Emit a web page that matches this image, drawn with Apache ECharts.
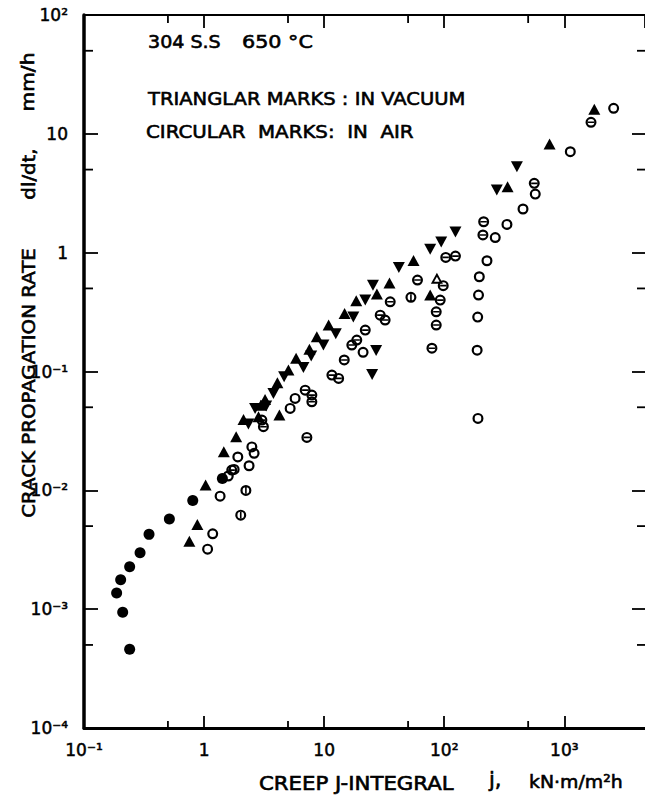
<!DOCTYPE html>
<html>
<head>
<meta charset="utf-8">
<script src="https://cdn.jsdelivr.net/npm/echarts@6/dist/echarts.min.js"></script>
<style>
  html, body { margin: 0; padding: 0; background: #fff; }
  #chart { width: 645px; height: 799px; }
</style>
</head>
<body>
<div id="chart"></div>
<script>
// Creep crack growth in 304 stainless steel at 650 °C:
// crack propagation rate dl/dt (mm/h) against creep J-integral j (kN·m/m²h).

// Axis ranges
const J_MIN = 0.1, J_MAX = 4700;
const RATE_MIN = 1e-4, RATE_MAX = 100;

// Minor ticks at 5 × 10^n
const J_MINOR_TICKS = [0.5, 5, 50, 500];
const RATE_MINOR_TICKS = [5e-4, 5e-3, 5e-2, 0.5, 5, 50];

// In air: solid circles  [j, dl/dt]
const airSolid = [
  [0.24, 4.6e-4], [0.21, 9.4e-4], [0.187, 1.37e-3], [0.202, 1.77e-3],
  [0.24, 2.27e-3], [0.293, 2.98e-3], [0.348, 4.26e-3], [0.514, 5.73e-3],
  [0.805, 8.2e-3], [1.42, 0.0126]
];

// In air: open circles
const airOpen = [
  [1.07, 3.2e-3], [1.18, 4.31e-3], [1.36, 8.93e-3], [1.59, 0.0132], [1.78, 0.015],
  [1.91, 0.0191], [2.37, 0.0161], [2.5, 0.0232], [2.61, 0.0205], [5.21, 0.0489],
  [5.73, 0.0594], [21.1, 0.145], [191, 0.0403], [188, 0.151], [190, 0.287],
  [193, 0.44], [196, 0.627], [227, 0.855], [266, 1.34], [333, 1.73], [453, 2.33],
  [573, 3.11], [1122, 7.07], [2576, 16.4]
];

// In air: circles with a horizontal bar
const airBarred = [
  [1.7, 0.0148], [3.03, 0.039], [3.12, 0.0343], [7.18, 0.0279], [6.95, 0.0697],
  [7.9, 0.0633], [7.9, 0.0556], [11.6, 0.0933], [13.2, 0.0875], [14.7, 0.125],
  [17.0, 0.167], [18.7, 0.184], [22.0, 0.223], [29.3, 0.298], [32.2, 0.271],
  [35.5, 0.386], [59.9, 0.588], [79.0, 0.157], [85.8, 0.246], [85.8, 0.318],
  [92.6, 0.399], [98.1, 0.528], [103, 0.912], [124, 0.936], [210, 1.41],
  [213, 1.82], [562, 3.83], [1669, 12.5]
];

// In air: circles with a vertical bar
const airSplit = [
  [2.02, 6.18e-3], [2.23, 9.98e-3], [52.8, 0.421]
];

// In vacuum: solid up-triangles
const vacuumUp = [
  [0.754, 3.73e-3], [0.879, 5.16e-3], [1.03, 0.0111], [1.46, 0.0211], [1.85, 0.0282],
  [2.13, 0.0395], [2.84, 0.0416], [2.97, 0.0521], [3.22, 0.0582], [4.08, 0.0803],
  [4.24, 0.043], [5.04, 0.103], [5.84, 0.129], [7.54, 0.154], [8.69, 0.196],
  [10.9, 0.246], [14.8, 0.308], [18.5, 0.394], [27.5, 0.449], [35.0, 0.555],
  [55.5, 0.861], [76.4, 0.44], [337, 3.59], [754, 8.21], [1778, 16.1]
];

// In vacuum: solid down-triangles
const vacuumDown = [
  [2.34, 0.0361], [2.66, 0.0489], [3.29, 0.0512], [3.78, 0.0654], [4.64, 0.0902],
  [6.72, 0.108], [7.8, 0.135], [9.86, 0.167], [12.5, 0.208], [17.5, 0.287],
  [22.0, 0.399], [25.5, 0.533], [25.1, 0.0942], [27.1, 0.15], [41.9, 0.752],
  [76.4, 1.07], [94.4, 1.23], [124, 1.49], [274, 3.37], [403, 5.28]
];

// In vacuum: open up-triangle
const vacuumOpen = [
  [86.9, 0.608]
];

const FONT = '"DejaVu Sans", sans-serif';
const INK = '#000';

// Marker outlines
const RING = 'M-5.5,0A5.5,5.5 0 1,1 5.5,0A5.5,5.5 0 1,1 -5.5,0Z' +
             'M-3.3,0A3.3,3.3 0 1,0 3.3,0A3.3,3.3 0 1,0 -3.3,0Z';
const SYM_OPEN = 'path://' + RING;
const SYM_HBAR = 'path://' + RING + 'M-3.1,-0.8L3.1,-0.8L3.1,0.8L-3.1,0.8Z';
const SYM_VBAR = 'path://' + RING + 'M-0.8,-3.1L0.8,-3.1L0.8,3.1L-0.8,3.1Z';
const SYM_OPEN_TRI = 'path://M0,-5L5.5,4.5L-5.5,4.5ZM0,-1.6L-2.6,2.6L2.6,2.6Z';

const SUP = { '-': '\u207B', '0': '\u2070', '1': '\u00B9', '2': '\u00B2', '3': '\u00B3', '4': '\u2074' };
function powerLabel(v) {
  const e = Math.round(Math.log10(v));
  if (e === 0) return '1';
  if (e === 1) return '10';
  return '10' + String(e).split('').map(c => SUP[c]).join('');
}

function scatter(name, data, symbol, size, rotate) {
  return {
    name, type: 'scatter', data, symbol, symbolSize: size,
    symbolRotate: rotate || 0,
    itemStyle: { color: INK, opacity: 1 },
    emphasis: { disabled: true },
    silent: true
  };
}

function minorTicks(name, data, render) {
  return {
    name, type: 'custom', data, silent: true, clip: false, z: 5,
    renderItem: render
  };
}

const tickStyle = { stroke: INK, lineWidth: 1.8 };

const chart = echarts.init(document.getElementById('chart'), null, { renderer: 'svg' });

// Lettering is drawn with a thin outline so it reads as heavy as pen lettering
function letterStyle(text, size, align) {
  return {
    text, font: size + 'px ' + FONT, fill: INK,
    stroke: INK, lineWidth: 0.6,
    align, verticalAlign: 'middle',
    textAlign: align, textVerticalAlign: 'middle'
  };
}

function annotation(text, x, y, size, sx) {
  return {
    type: 'text', x, y, scaleX: sx, originX: 0, originY: 0,
    style: letterStyle(text, size, 'left'),
    silent: true
  };
}

function sideTitle(text, y, sx) {
  return {
    type: 'text', x: 28, y, rotation: Math.PI / 2, scaleX: sx,
    style: letterStyle(text, 18, 'center'),
    silent: true
  };
}

const logAxisCommon = {
  type: 'log', logBase: 10,
  splitLine: { show: false },
  minorTick: { show: false },
  minorSplitLine: { show: false }
};

const tickLabel = {
  show: true, color: INK, fontFamily: FONT, fontSize: 17,
  textBorderColor: INK, textBorderWidth: 0.5,
  formatter: powerLabel
};

chart.setOption({
  animation: false,
  backgroundColor: '#fff',
  grid: { left: 84, top: 15, width: 561, height: 713 },
  xAxis: [
    Object.assign({}, logAxisCommon, {
      position: 'bottom', min: J_MIN, max: J_MAX, splitNumber: 5,
      axisLine: { show: true, lineStyle: { color: INK, width: 3 } },
      axisTick: { show: true, inside: true, length: 12, lineStyle: { color: INK, width: 1.8 } },
      axisLabel: Object.assign({}, tickLabel, { margin: 13, showMaxLabel: false })
    }),
    Object.assign({}, logAxisCommon, {
      position: 'top', min: J_MIN, max: J_MAX, splitNumber: 5,
      axisLine: { show: true, lineStyle: { color: INK, width: 2.2 } },
      axisTick: { show: true, inside: true, length: 13, lineStyle: { color: INK, width: 1.8 } },
      axisLabel: { show: false }
    })
  ],
  yAxis: [
    Object.assign({}, logAxisCommon, {
      position: 'left', min: RATE_MIN, max: RATE_MAX, splitNumber: 6,
      axisLine: { show: true, lineStyle: { color: INK, width: 3.5 } },
      axisTick: { show: true, inside: true, length: 14, lineStyle: { color: INK, width: 1.8 } },
      axisLabel: Object.assign({}, tickLabel, { margin: 16 })
    }),
    Object.assign({}, logAxisCommon, {
      position: 'right', min: RATE_MIN, max: RATE_MAX, splitNumber: 6,
      axisLine: { show: false },
      axisTick: { show: true, inside: true, length: 13, lineStyle: { color: INK, width: 1.8 } },
      axisLabel: { show: false }
    })
  ],
  series: [
    scatter('air, solid', airSolid, 'circle', 11),
    scatter('air, open', airOpen, SYM_OPEN, 11),
    scatter('air, barred', airBarred, SYM_HBAR, 11),
    scatter('air, split', airSplit, SYM_VBAR, 11),
    scatter('vacuum, up', vacuumUp, 'triangle', [12, 11]),
    scatter('vacuum, down', vacuumDown, 'triangle', [12, 11], 180),
    scatter('vacuum, open', vacuumOpen, SYM_OPEN_TRI, [12, 11]),
    minorTicks('j minor ticks', J_MINOR_TICKS.map(v => [v, RATE_MIN]), (params, api) => {
      const v = api.value(0);
      const b = api.coord([v, RATE_MIN]);
      const t = api.coord([v, RATE_MAX]);
      return {
        type: 'group',
        children: [
          { type: 'line', shape: { x1: b[0], y1: b[1], x2: b[0], y2: b[1] - 7 }, style: tickStyle },
          { type: 'line', shape: { x1: t[0], y1: t[1], x2: t[0], y2: t[1] + 8 }, style: tickStyle }
        ]
      };
    }),
    minorTicks('rate minor ticks', RATE_MINOR_TICKS.map(v => [J_MIN, v]), (params, api) => {
      const v = api.value(1);
      const l = api.coord([J_MIN, v]);
      const r = api.coord([J_MAX, v]);
      return {
        type: 'group',
        children: [
          { type: 'line', shape: { x1: l[0], y1: l[1], x2: l[0] + 9, y2: l[1] }, style: tickStyle },
          { type: 'line', shape: { x1: r[0], y1: r[1], x2: r[0] - 8, y2: r[1] }, style: tickStyle }
        ]
      };
    })
  ],
  graphic: [
    annotation('304 S.S', 148, 42, 18, 1.06),
    annotation('650 \u00B0C', 242, 42, 18, 1.15),
    annotation('TRIANGLAR MARKS : IN VACUUM', 148, 99, 18, 1.085),
    annotation('CIRCULAR  MARKS:  IN  AIR', 146, 131, 18, 1.1),
    sideTitle('CRACK PROPAGATION RATE', 383, 1.1),
    sideTitle('dl/dt,', 174, 1.1),
    sideTitle('mm/h', 82, 1.12),
    annotation('CREEP J-INTEGRAL', 259, 783, 19, 1.12),
    annotation('j,', 489, 780, 21, 1.0),
    annotation('kN\u00B7m/m\u00B2h', 529, 782, 18, 1.05)
  ]
});
</script>
</body>
</html>
